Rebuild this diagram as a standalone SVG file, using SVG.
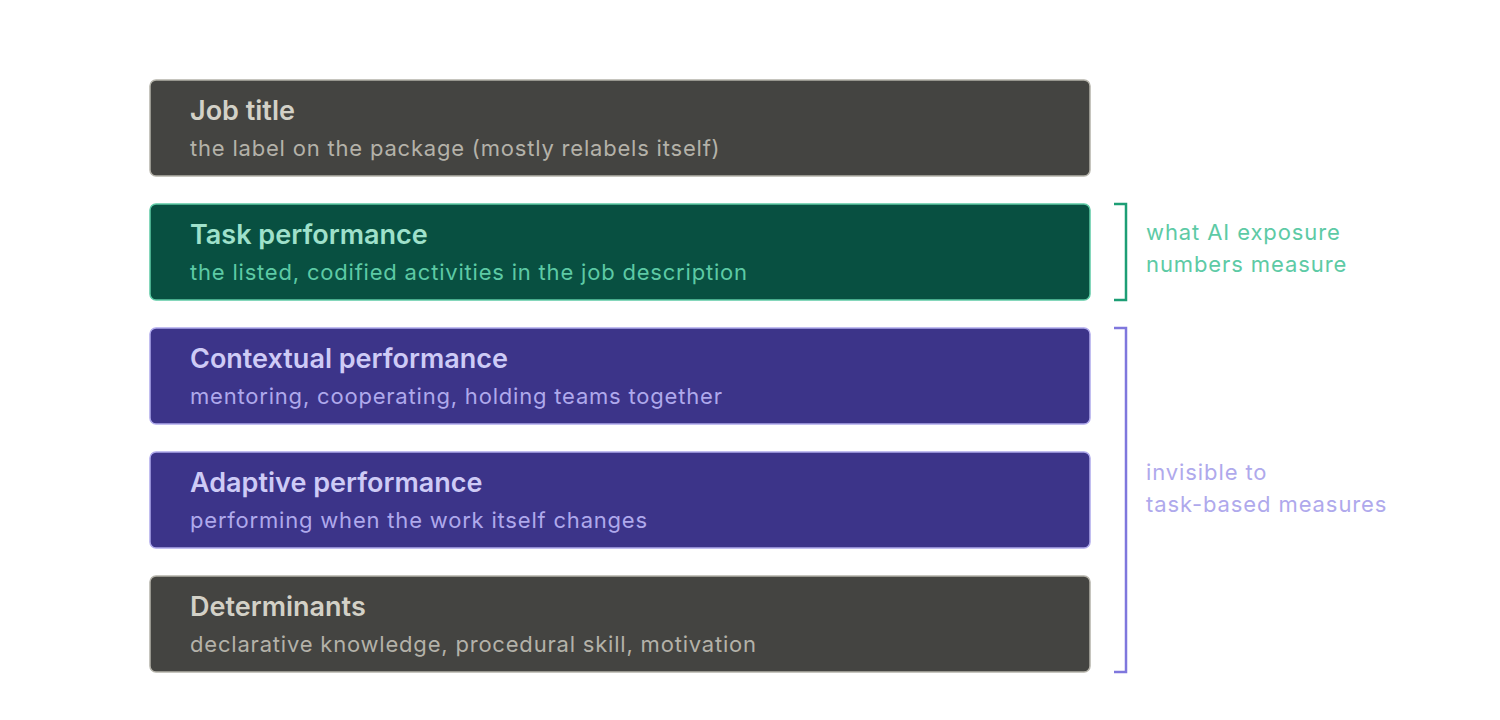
<svg xmlns="http://www.w3.org/2000/svg" width="1500" height="720" viewBox="0 0 1500 720">
<style>
text{font-family:Inter,"Noto Sans","Liberation Sans",sans-serif}
.t{font-size:27px;font-weight:600;letter-spacing:0px}
.s{font-size:22px;font-weight:400;letter-spacing:0.8px}
.gray rect{fill:#444441;stroke:#B4B2A9}
.gray .t{fill:#D3D1C7}.gray .s{fill:#B4B2A9}
.teal rect{fill:#085041;stroke:#5DCAA5}
.teal .t{fill:#9FE1CB}.teal .s{fill:#5DCAA5}
.purp rect{fill:#3C3489;stroke:#AFA9EC}
.purp .t{fill:#CECBF6}.purp .s{fill:#AFA9EC}
rect{stroke-width:1.5}
.br{fill:none;stroke-width:2.5}
.lab{font-size:22px;letter-spacing:0.9px}
</style>
<rect width="1500" height="720" fill="#ffffff"/>
<g id="job-title" class="gray">
<rect x="150" y="80" width="940" height="96" rx="6"/>
<text class="t" x="190" y="120">Job title</text>
<text class="s" x="190" y="156">the label on the package (mostly relabels itself)</text>
</g>
<g id="task-performance" class="teal">
<rect x="150" y="204" width="940" height="96" rx="6"/>
<text class="t" x="190" y="244">Task performance</text>
<text class="s" x="190" y="280">the listed, codified activities in the job description</text>
</g>
<g id="contextual-performance" class="purp">
<rect x="150" y="328" width="940" height="96" rx="6"/>
<text class="t" x="190" y="368">Contextual performance</text>
<text class="s" x="190" y="404">mentoring, cooperating, holding teams together</text>
</g>
<g id="adaptive-performance" class="purp">
<rect x="150" y="452" width="940" height="96" rx="6"/>
<text class="t" x="190" y="492">Adaptive performance</text>
<text class="s" x="190" y="528">performing when the work itself changes</text>
</g>
<g id="determinants" class="gray">
<rect x="150" y="576" width="940" height="96" rx="6"/>
<text class="t" x="190" y="616">Determinants</text>
<text class="s" x="190" y="652">declarative knowledge, procedural skill, motivation</text>
</g>
<g id="connectors">
<path class="br" stroke="#1D9E75" d="M1114 204H1126V300H1114"/>
<path class="br" stroke="#7F77DD" d="M1114 328H1126V672H1114"/>
</g>
<g id="bracket-labels">
<text class="lab" fill="#5DCAA5" x="1146" y="240">what AI exposure</text>
<text class="lab" fill="#5DCAA5" x="1146" y="272">numbers measure</text>
<text class="lab" fill="#AFA9EC" x="1146" y="480">invisible to</text>
<text class="lab" fill="#AFA9EC" x="1146" y="512">task-based measures</text>
</g>
</svg>
